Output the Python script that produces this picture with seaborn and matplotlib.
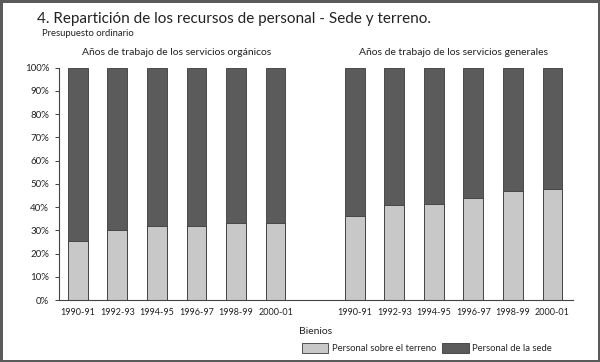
import pandas as pd
import seaborn as sns
import matplotlib.pyplot as plt
from matplotlib.patches import Patch

# Data (percent of staff in the field)
bienios = ["1990-91", "1992-93", "1994-95", "1996-97", "1998-99", "2000-01"]
terreno_organicos = [25.5, 30, 32, 32, 33, 33]
terreno_generales = [36, 41, 41.5, 44, 47, 48]
grupos = ["Años de trabajo de los servicios orgánicos",
          "Años de trabajo de los servicios generales"]

LIGHT = "#c8c8c8"
DARK = "#5b5b5b"
EDGE = "#3a3a3a"


def build_frame():
    rows = []
    for grupo, valores in zip(["org", "gen"], [terreno_organicos, terreno_generales]):
        for b, v in zip(bienios, valores):
            rows.append({"clave": f"{grupo}|{b}", "terreno": v, "total": 100})
    return pd.DataFrame(rows)


def generate_chart():
    df = build_frame()
    # one empty slot between the two groups
    order = [f"org|{b}" for b in bienios] + [" "] + [f"gen|{b}" for b in bienios]

    sns.set_theme(style="ticks")
    plt.rcParams["font.family"] = ["Lato", "DejaVu Sans"]

    fig = plt.figure(figsize=(6, 3.62), dpi=100)
    fig.patch.set_edgecolor("#5a5a5a")
    fig.patch.set_linewidth(2.5)
    ax = fig.add_axes([0.098, 0.171, 0.857, 0.642])

    # stacked bars: full column in dark, field share in light on top
    sns.barplot(data=df, x="clave", y="total", order=order, color=DARK,
                width=0.5, edgecolor=EDGE, linewidth=0.6, saturation=1,
                errorbar=None, ax=ax)
    sns.barplot(data=df, x="clave", y="terreno", order=order, color=LIGHT,
                width=0.5, edgecolor=EDGE, linewidth=0.6, saturation=1,
                errorbar=None, ax=ax)

    ax.set_xlim(-0.48, 12.52)
    ax.set_ylim(0, 100)
    ax.set_yticks(range(0, 101, 10))
    ax.set_yticklabels([f"{v}%" for v in range(0, 101, 10)])
    ax.set_xticks(range(len(order)))
    ax.set_xticklabels([k.split("|")[-1] if "|" in k else "" for k in order])
    ax.tick_params(axis="y", labelsize=7, length=3, width=0.6, colors="#222222", pad=4)
    ax.tick_params(axis="x", labelsize=6.5, length=0, colors="#222222", pad=6)
    sns.despine(ax=ax)
    for s in ["left", "bottom"]:
        ax.spines[s].set_linewidth(0.8)
        ax.spines[s].set_color("#444444")

    ax.set_xlabel("Bienios", fontsize=7.5, color="#222222", labelpad=7)
    ax.set_ylabel("")

    # group headers
    ax.text(2.5, 106.5, grupos[0], ha="center", va="center", fontsize=7.5, color="#222222")
    ax.text(9.5, 106.5, grupos[1], ha="center", va="center", fontsize=7.5, color="#222222")

    fig.text(37 / 600, 1 - 19 / 362, "4. Repartición de los recursos de personal - Sede y terreno.",
             ha="left", va="center", fontsize=11, color="#222222")
    fig.text(42 / 600, 1 - 33 / 362, "Presupuesto ordinario",
             ha="left", va="center", fontsize=6.8, color="#222222")

    handles = [Patch(facecolor=LIGHT, edgecolor=EDGE, linewidth=0.6),
               Patch(facecolor=DARK, edgecolor=EDGE, linewidth=0.6)]
    fig.legend(handles, ["Personal sobre el terreno", "Personal de la sede"],
               loc="center", bbox_to_anchor=(427 / 600, 1 - 348 / 362), ncol=2,
               frameon=False, fontsize=6.8, handlelength=2.8, handleheight=1.2,
               handletextpad=0.4, columnspacing=0.6, borderpad=0)

    fig.savefig("out.png", dpi=100)


if __name__ == "__main__":
    generate_chart()
